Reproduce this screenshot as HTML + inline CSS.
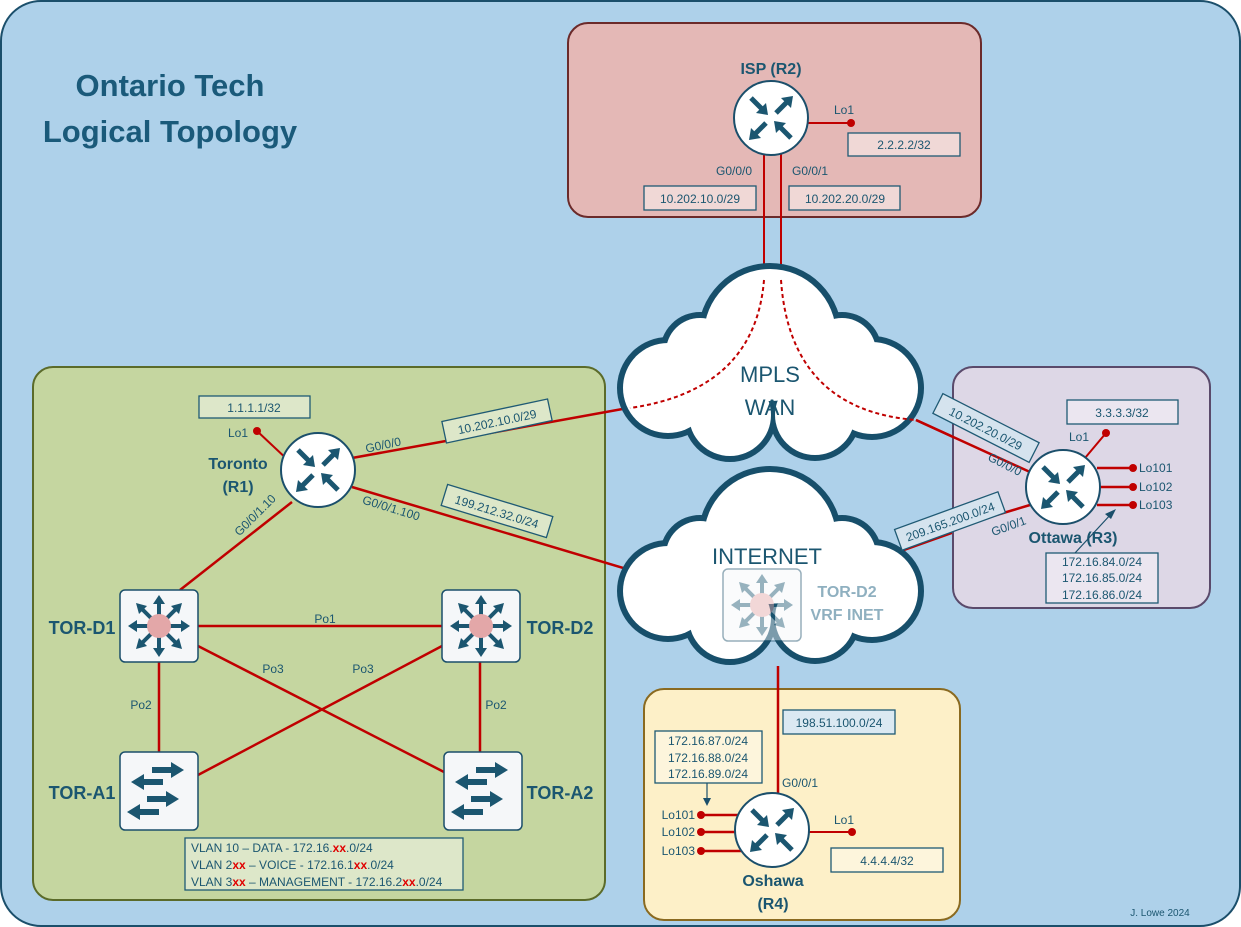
<!DOCTYPE html>
<html><head><meta charset="utf-8"><style>
html,body{margin:0;padding:0;background:#fff}
svg{display:block}
text{font-family:"Liberation Sans",sans-serif;fill:#1b5670}
.b{font-weight:bold}
.lbl{font-size:12px}
.box{stroke:#1f5a74;stroke-width:1.3}
</style></head><body>
<svg width="1241" height="927" viewBox="0 0 1241 927" xmlns="http://www.w3.org/2000/svg">
<defs>
<g id="rt">
<circle r="37" fill="#fff" stroke="#1b4f6b" stroke-width="2"/>
<g stroke="#1b5670" stroke-width="5" fill="#1b5670">
<line x1="-20" y1="-20" x2="-9" y2="-9"/><polygon points="-3,-3 -15,-5 -5,-15" stroke="none"/>
<line x1="5" y1="-5" x2="16" y2="-16"/><polygon points="22,-22 10,-20 20,-10" stroke="none"/>
<line x1="-5" y1="5" x2="-16" y2="16"/><polygon points="-22,22 -10,20 -20,10" stroke="none"/>
<line x1="20" y1="20" x2="9" y2="9"/><polygon points="3,3 15,5 5,15" stroke="none"/>
</g></g>
<g id="ds">
<rect x="-39" y="-36" width="78" height="72" rx="5" fill="#f5f7f9" stroke="#1b4f6b" stroke-width="1.5"/>
<g stroke="currentColor" stroke-width="4" fill="currentColor">
<line x1="0" y1="-10" x2="0" y2="-24"/><polygon points="0,-31 -6,-22 6,-22" stroke="none"/>
<line x1="0" y1="10" x2="0" y2="24"/><polygon points="0,31 -6,22 6,22" stroke="none"/>
<line x1="-10" y1="0" x2="-24" y2="0"/><polygon points="-31,0 -22,-6 -22,6" stroke="none"/>
<line x1="10" y1="0" x2="24" y2="0"/><polygon points="31,0 22,-6 22,6" stroke="none"/>
<line x1="8" y1="-8" x2="17" y2="-17"/><polygon points="23,-23 12,-20 20,-12" stroke="none"/>
<line x1="-8" y1="-8" x2="-17" y2="-17"/><polygon points="-23,-23 -12,-20 -20,-12" stroke="none"/>
<line x1="8" y1="8" x2="17" y2="17"/><polygon points="23,23 12,20 20,12" stroke="none"/>
<line x1="-8" y1="8" x2="-17" y2="17"/><polygon points="-23,23 -12,20 -20,12" stroke="none"/>
</g>
<circle r="12" fill="#e3a7a8"/>
</g>
<g id="as">
<rect x="-39" y="-39" width="78" height="78" rx="5" fill="#f5f7f9" stroke="#1b4f6b" stroke-width="1.5"/>
<g fill="#1b5670">
<rect x="-7" y="-24" width="20" height="6"/><polygon points="25,-21 12,-29 12,-13"/>
<rect x="-16" y="-12" width="20" height="6"/><polygon points="-28,-9 -15,-17 -15,-1"/>
<rect x="-12" y="5" width="20" height="6"/><polygon points="20,8 7,0 7,16"/>
<rect x="-20" y="18" width="20" height="6"/><polygon points="-32,21 -19,13 -19,29"/>
</g></g>
<g id="cloudS" stroke="#174f6b" stroke-width="12">
<circle cx="770" cy="335" r="66"/><circle cx="668" cy="388" r="45"/><circle cx="872" cy="388" r="46"/>
<circle cx="730" cy="415" r="41"/><circle cx="815" cy="415" r="40"/><circle cx="700" cy="352" r="34"/><circle cx="842" cy="352" r="34"/>
</g>
<g id="cloudF" fill="#fff">
<circle cx="770" cy="335" r="66"/><circle cx="668" cy="388" r="45"/><circle cx="872" cy="388" r="46"/>
<circle cx="730" cy="415" r="41"/><circle cx="815" cy="415" r="40"/><circle cx="700" cy="352" r="34"/><circle cx="842" cy="352" r="34"/>
</g>
</defs>

<rect x="1" y="1" width="1239" height="925" rx="40" fill="#aed1ea" stroke="#1b4f6b" stroke-width="2"/>
<text x="170" y="96" text-anchor="middle" class="b" font-size="31" style="fill:#1a5a7a">Ontario Tech</text>
<text x="170" y="142" text-anchor="middle" class="b" font-size="31" style="fill:#1a5a7a">Logical Topology</text>

<!-- ISP -->
<rect x="568" y="23" width="413" height="194" rx="20" fill="#e4b8b6" stroke="#6b2a2a" stroke-width="2"/>
<text x="771" y="74" text-anchor="middle" class="b" font-size="16">ISP (R2)</text>
<line x1="808" y1="123" x2="851" y2="123" stroke="#c00000" stroke-width="2"/><circle cx="851" cy="123" r="4" fill="#c00000"/>
<text x="844" y="114" text-anchor="middle" class="lbl">Lo1</text>
<rect x="848" y="133" width="112" height="23" fill="#f0d8d6" class="box"/><text x="904" y="149" text-anchor="middle" class="lbl">2.2.2.2/32</text>
<text x="734" y="175" text-anchor="middle" class="lbl">G0/0/0</text>
<text x="810" y="175" text-anchor="middle" class="lbl">G0/0/1</text>
<rect x="644" y="186" width="112" height="24" fill="#f0d8d6" class="box"/><text x="700" y="203" text-anchor="middle" class="lbl">10.202.10.0/29</text>
<rect x="789" y="186" width="111" height="24" fill="#f0d8d6" class="box"/><text x="845" y="203" text-anchor="middle" class="lbl">10.202.20.0/29</text>
<line x1="764" y1="150" x2="764" y2="285" stroke="#c00000" stroke-width="2"/>
<line x1="781" y1="150" x2="781" y2="285" stroke="#c00000" stroke-width="2"/>
<use href="#rt" x="771" y="118"/>

<!-- Green -->
<rect x="33" y="367" width="572" height="533" rx="20" fill="#c5d6a0" stroke="#5b6b2a" stroke-width="2"/>

<!-- links -->
<g stroke="#c00000" stroke-width="2.5">
<line x1="352" y1="458" x2="628" y2="408"/>
<line x1="352" y1="487" x2="640" y2="573"/>
<line x1="292" y1="502" x2="180" y2="590"/>
<line x1="198" y1="626" x2="442" y2="626"/>
<line x1="198" y1="646" x2="444" y2="772"/>
<line x1="442" y1="646" x2="198" y2="775"/>
<line x1="159" y1="662" x2="159" y2="752"/>
<line x1="480" y1="662" x2="480" y2="752"/>
<line x1="916" y1="420" x2="1030" y2="472"/>
<line x1="890" y1="555" x2="1030" y2="505"/>
</g>

<!-- clouds -->
<use href="#cloudS"/><use href="#cloudF"/>
<g transform="translate(0,203)"><use href="#cloudS"/><use href="#cloudF"/></g>
<path d="M764,280 Q755,390 630,408" fill="none" stroke="#c00000" stroke-width="2" stroke-dasharray="4,3"/>
<path d="M781,280 Q790,410 916,420" fill="none" stroke="#c00000" stroke-width="2" stroke-dasharray="4,3"/>
<text x="770" y="382" text-anchor="middle" font-size="22">MPLS</text>
<text x="770" y="415" text-anchor="middle" font-size="22">WAN</text>
<text x="767" y="564" text-anchor="middle" font-size="22">INTERNET</text>
<g opacity="0.45" style="color:#1b5670"><use href="#ds" x="762" y="605"/></g>
<text x="847" y="597" text-anchor="middle" class="b" font-size="16" style="fill:#8fb0c0">TOR-D2</text>
<text x="847" y="620" text-anchor="middle" class="b" font-size="16" style="fill:#8fb0c0">VRF INET</text>

<!-- Toronto -->
<rect x="199" y="396" width="111" height="22" fill="#dde7c9" class="box"/><text x="254" y="412" text-anchor="middle" class="lbl">1.1.1.1/32</text>
<line x1="257" y1="431" x2="290" y2="462" stroke="#c00000" stroke-width="2"/><circle cx="257" cy="431" r="4" fill="#c00000"/>
<text x="238" y="437" text-anchor="middle" class="lbl">Lo1</text>
<text x="238" y="469" text-anchor="middle" class="b" font-size="16">Toronto</text>
<text x="238" y="492" text-anchor="middle" class="b" font-size="16">(R1)</text>
<use href="#rt" x="318" y="470"/>
<text transform="translate(384,449) rotate(-12)" text-anchor="middle" class="lbl">G0/0/0</text>
<g transform="translate(497,421) rotate(-12)"><rect x="-54" y="-11" width="108" height="22" fill="#dde7c9" class="box"/><text y="5" text-anchor="middle" class="lbl">10.202.10.0/29</text></g>
<text transform="translate(390,512) rotate(17)" text-anchor="middle" class="lbl">G0/0/1.100</text>
<g transform="translate(497,511) rotate(17)"><rect x="-55" y="-11" width="110" height="22" fill="#dde7c9" class="box"/><text y="5" text-anchor="middle" class="lbl">199.212.32.0/24</text></g>
<text transform="translate(258,518) rotate(-45)" text-anchor="middle" class="lbl">G0/0/1.10</text>

<g style="color:#1b5670"><use href="#ds" x="159" y="626"/><use href="#ds" x="481" y="626"/></g>
<use href="#as" x="159" y="791"/><use href="#as" x="483" y="791"/>
<text x="82" y="634" text-anchor="middle" class="b" font-size="18">TOR-D1</text>
<text x="560" y="634" text-anchor="middle" class="b" font-size="18">TOR-D2</text>
<text x="82" y="799" text-anchor="middle" class="b" font-size="18">TOR-A1</text>
<text x="560" y="799" text-anchor="middle" class="b" font-size="18">TOR-A2</text>
<text x="325" y="623" text-anchor="middle" class="lbl">Po1</text>
<text x="273" y="673" text-anchor="middle" class="lbl">Po3</text>
<text x="363" y="673" text-anchor="middle" class="lbl">Po3</text>
<text x="141" y="709" text-anchor="middle" class="lbl">Po2</text>
<text x="496" y="709" text-anchor="middle" class="lbl">Po2</text>
<rect x="185" y="838" width="278" height="52" fill="#dde7c9" class="box"/>
<text x="191" y="852" class="lbl">VLAN 10 – DATA - 172.16.<tspan style="fill:#e00000" class="b">xx</tspan>.0/24</text>
<text x="191" y="869" class="lbl">VLAN 2<tspan style="fill:#e00000" class="b">xx</tspan> – VOICE - 172.16.1<tspan style="fill:#e00000" class="b">xx</tspan>.0/24</text>
<text x="191" y="886" class="lbl">VLAN 3<tspan style="fill:#e00000" class="b">xx</tspan> – MANAGEMENT - 172.16.2<tspan style="fill:#e00000" class="b">xx</tspan>.0/24</text>

<!-- Ottawa -->
<rect x="953" y="367" width="257" height="241" rx="20" fill="#ddd7e6" stroke="#5a4a6b" stroke-width="2"/>
<line x1="916" y1="420" x2="1030" y2="472" stroke="#c00000" stroke-width="2.5"/>
<line x1="953" y1="528" x2="1030" y2="505" stroke="#c00000" stroke-width="2.5"/>
<rect x="1067" y="400" width="111" height="24" fill="#ebe6f0" class="box"/><text x="1122" y="417" text-anchor="middle" class="lbl">3.3.3.3/32</text>
<line x1="1106" y1="433" x2="1085" y2="458" stroke="#c00000" stroke-width="2"/><circle cx="1106" cy="433" r="4" fill="#c00000"/>
<text x="1079" y="441" text-anchor="middle" class="lbl">Lo1</text>
<g stroke="#c00000" stroke-width="2.5"><line x1="1097" y1="468" x2="1133" y2="468"/><line x1="1099" y1="487" x2="1133" y2="487"/><line x1="1097" y1="505" x2="1133" y2="505"/></g>
<g fill="#c00000"><circle cx="1133" cy="468" r="4"/><circle cx="1133" cy="487" r="4"/><circle cx="1133" cy="505" r="4"/></g>
<text x="1139" y="472" class="lbl">Lo101</text><text x="1139" y="491" class="lbl">Lo102</text><text x="1139" y="509" class="lbl">Lo103</text>
<use href="#rt" x="1063" y="487"/>
<text x="1073" y="543" text-anchor="middle" class="b" font-size="16">Ottawa (R3)</text>
<rect x="1046" y="553" width="112" height="50" fill="#ebe6f0" class="box"/>
<text x="1102" y="566" text-anchor="middle" class="lbl">172.16.84.0/24</text>
<text x="1102" y="582" text-anchor="middle" class="lbl">172.16.85.0/24</text>
<text x="1102" y="599" text-anchor="middle" class="lbl">172.16.86.0/24</text>
<line x1="1075" y1="553" x2="1112" y2="513" stroke="#1b4f6b" stroke-width="1.2"/><polygon points="1116,509 1105,514 1111,519" fill="#1b4f6b"/>
<g transform="translate(986,428) rotate(27)"><rect x="-54" y="-11" width="108" height="22" fill="#d5e3ee" class="box"/><text y="5" text-anchor="middle" class="lbl">10.202.20.0/29</text></g>
<text transform="translate(1003,468) rotate(27)" text-anchor="middle" class="lbl">G0/0/0</text>
<g transform="translate(950,521) rotate(-20)"><rect x="-55" y="-11" width="110" height="22" fill="#d5e3ee" class="box"/><text y="5" text-anchor="middle" class="lbl">209.165.200.0/24</text></g>
<text transform="translate(1010,530) rotate(-20)" text-anchor="middle" class="lbl">G0/0/1</text>

<!-- Oshawa -->
<rect x="644" y="689" width="316" height="231" rx="20" fill="#fdf0c8" stroke="#8a6a20" stroke-width="2"/>
<line x1="778" y1="666" x2="778" y2="795" stroke="#c00000" stroke-width="2.5"/>
<rect x="783" y="710" width="112" height="24" fill="#dbe9f2" class="box"/><text x="839" y="727" text-anchor="middle" class="lbl">198.51.100.0/24</text>
<text x="800" y="787" text-anchor="middle" class="lbl">G0/0/1</text>
<line x1="808" y1="832" x2="852" y2="832" stroke="#c00000" stroke-width="2"/><circle cx="852" cy="832" r="4" fill="#c00000"/>
<text x="844" y="824" text-anchor="middle" class="lbl">Lo1</text>
<rect x="831" y="848" width="112" height="24" fill="#fdf5dc" class="box"/><text x="887" y="865" text-anchor="middle" class="lbl">4.4.4.4/32</text>
<g stroke="#c00000" stroke-width="2.5"><line x1="701" y1="815" x2="740" y2="815"/><line x1="701" y1="832" x2="737" y2="832"/><line x1="701" y1="851" x2="742" y2="851"/></g>
<g fill="#c00000"><circle cx="701" cy="815" r="4"/><circle cx="701" cy="832" r="4"/><circle cx="701" cy="851" r="4"/></g>
<text x="695" y="819" text-anchor="end" class="lbl">Lo101</text><text x="695" y="836" text-anchor="end" class="lbl">Lo102</text><text x="695" y="855" text-anchor="end" class="lbl">Lo103</text>
<use href="#rt" x="772" y="830"/>
<rect x="655" y="731" width="107" height="52" fill="#fdf5dc" class="box"/>
<text x="708" y="745" text-anchor="middle" class="lbl">172.16.87.0/24</text>
<text x="708" y="762" text-anchor="middle" class="lbl">172.16.88.0/24</text>
<text x="708" y="778" text-anchor="middle" class="lbl">172.16.89.0/24</text>
<line x1="707" y1="783" x2="707" y2="800" stroke="#1b4f6b" stroke-width="1.2"/><polygon points="707,806 703,798 711,798" fill="#1b4f6b"/>
<text x="773" y="886" text-anchor="middle" class="b" font-size="16">Oshawa</text>
<text x="773" y="909" text-anchor="middle" class="b" font-size="16">(R4)</text>

<text x="1160" y="916" text-anchor="middle" font-size="10">J. Lowe 2024</text>
</svg>
</body></html>
